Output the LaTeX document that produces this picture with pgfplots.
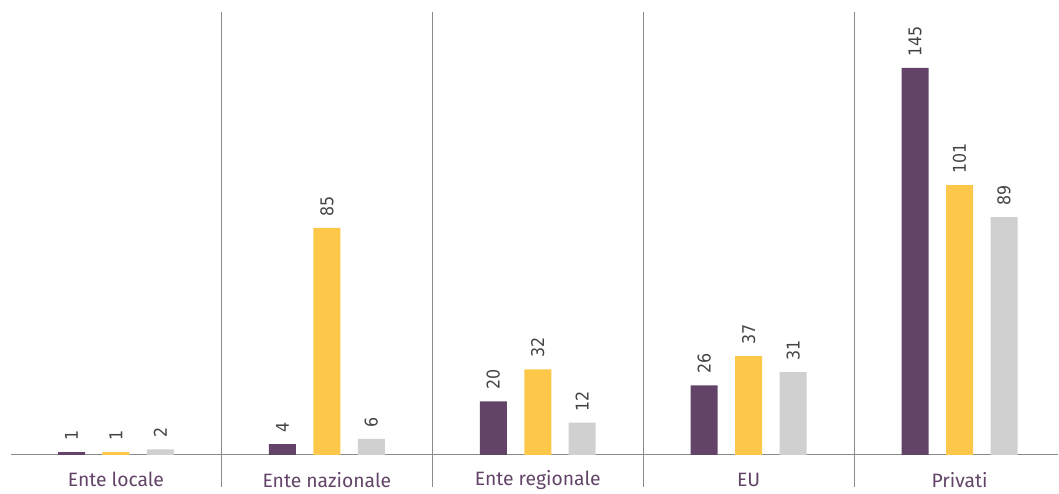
\documentclass[border=0pt]{standalone}
\usepackage{pgfplots}
\pgfplotsset{compat=1.18}
\usepackage{fontspec}
\setmainfont{Fira Sans}
\newfontfamily\valfont[FakeStretch=0.9]{DejaVu Sans}
\definecolor{cpurple}{HTML}{634468}
\definecolor{cyellow}{HTML}{FDC84A}
\definecolor{cgray}{HTML}{D0D0D0}
\definecolor{csep}{HTML}{8A8A8A}
\definecolor{cval}{HTML}{444444}
\pgfplotstableread{
x a b c
0 1 1 2
1 4 85 6
2 20 32 12
3 26 37 31
4 145 101 89
}\datatab
\begin{document}
\begin{tikzpicture}
\begin{axis}[
  scale only axis,
  width=794.25pt, height=368.25pt,
  xmin=-0.5498, xmax=4.469,
  ymin=-13.48, ymax=170.4,
  hide axis,
  clip=false,
  ybar=13.1pt,
  bar width=20.25pt,
  /pgf/number format/assume math mode=true,
  nodes near coords={\valfont\pgfmathprintnumber{\pgfplotspointmeta}},
  every node near coord/.append style={font=\valfont\fontsize{13.2}{15}\selectfont, text=cval, rotate=90, anchor=west, inner xsep=8.5pt, inner ysep=0pt},
]
\draw[csep, line width=0.8pt] (axis cs:-0.5,0) -- (axis cs:4.469,0);
\draw[csep, line width=0.8pt] (axis cs:0.5,166) -- (axis cs:0.5,-12);
\draw[csep, line width=0.8pt] (axis cs:1.5,166) -- (axis cs:1.5,-12);
\draw[csep, line width=0.8pt] (axis cs:2.5,166) -- (axis cs:2.5,-12);
\draw[csep, line width=0.8pt] (axis cs:3.5,166) -- (axis cs:3.5,-12);
\addplot[fill=cpurple, draw=none] table[x=x,y=a]{\datatab};
\addplot[fill=cyellow, draw=none] table[x=x,y=b]{\datatab};
\addplot[fill=cgray, draw=none] table[x=x,y=c]{\datatab};
\node[text=cpurple, font=\fontsize{14.5}{16}\selectfont] at (axis cs:0,-9.4) {Ente locale};
\node[text=cpurple, font=\fontsize{14.5}{16}\selectfont] at (axis cs:1,-9.4) {Ente nazionale};
\node[text=cpurple, font=\fontsize{14.5}{16}\selectfont] at (axis cs:2,-9.4) {Ente regionale};
\node[text=cpurple, font=\fontsize{14.5}{16}\selectfont] at (axis cs:3,-9.4) {EU};
\node[text=cpurple, font=\fontsize{14.5}{16}\selectfont] at (axis cs:4,-9.4) {Privati};
\path (axis cs:-0.5498,-13.48) rectangle (axis cs:4.469,170.4);
\end{axis}
\end{tikzpicture}
\end{document}
